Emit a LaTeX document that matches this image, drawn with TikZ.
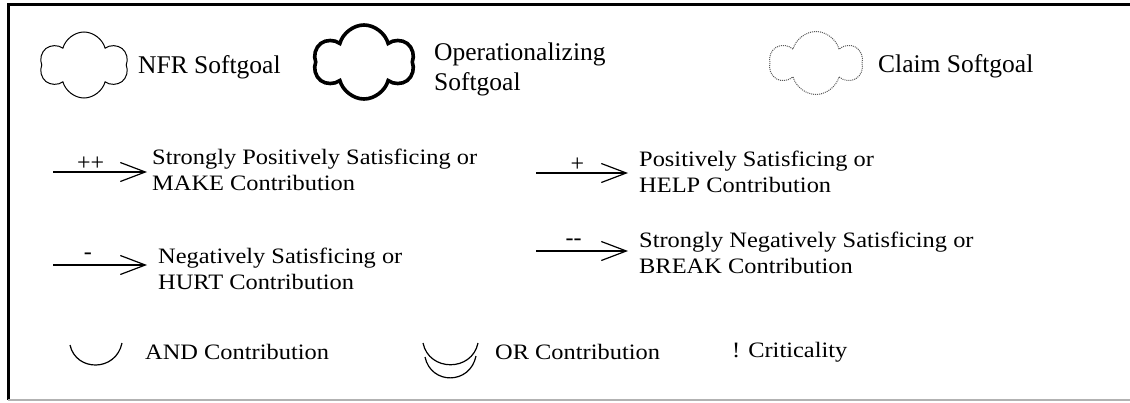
\documentclass[tikz,border=0pt]{standalone}
\usepackage{fontspec}
\setmainfont{Liberation Serif}
\newfontfamily\widefont[FakeStretch=1.11]{Liberation Serif}
\usetikzlibrary{shapes.symbols,arrows.meta,positioning}

\begin{document}
\begin{tikzpicture}%
	[x={(1pt,0pt)},
	y={(0pt,-1pt)},
	frameline/.style={line width=3pt, line join=miter},
	softgoal/.style={cloud, cloud puffs=6, cloud puff arc=150, cloud ignores aspect, draw=black, inner sep=0pt},
	opgoal/.style={softgoal, line width=3.6pt},
	claimgoal/.style={softgoal, draw=black!65, densely dotted, line width=1pt},
	goaltext/.style={inner sep=0pt, font=\fontsize{25.5}{30}\selectfont, align=left},
	contrib/.style={line width=1.2pt, -{Straight Barb[length=25pt, width=19pt, line width=1.2pt]}},
	sign/.style={inner sep=0pt, text depth=0pt, font=\fontsize{24}{24}\selectfont},
	legtext/.style={inner sep=0pt, font=\widefont\fontsize{22}{26.5}\selectfont, align=left},
	andarc/.style={line width=1.2pt}]
	%
	%% Frame of the legend
	%%
	\useasboundingbox (0,0) rectangle (1130,402);
	\draw[frameline] (8,400) -- (8,4) -- (1130,4);
	\draw[black!30, line width=1.5pt] (8,400) -- (1130,400);
	%%
	%% Softgoal kinds
	%%
	\node[softgoal, line width=1pt, minimum width=88pt, minimum height=66pt] (nfr) at (84,65) {};
	\node[goaltext, anchor=base west] (nfr-t) at (138,73) {NFR Softgoal};
	\node[opgoal, minimum width=100pt, minimum height=74pt] (opsg) at (364,62) {};
	\node[goaltext, anchor=west] (opsg-t) at (434,69) {Operationalizing\\Softgoal};
	\node[claimgoal, minimum width=92pt, minimum height=63pt] (claim) at (816,63) {};
	\node[goaltext, anchor=base west] (claim-t) at (878,72) {Claim Softgoal};
	%%
	%% Contribution links
	%%
	\coordinate (make-s) at (53,172);
	\coordinate (make-e) at (147,172);
	\coordinate (help-s) at (536,173);
	\coordinate (help-e) at (628,173);
	\coordinate (hurt-s) at (53,265);
	\coordinate (hurt-e) at (147,265);
	\coordinate (break-s) at (536,251);
	\coordinate (break-e) at (628,251);
	%
	\draw[contrib] (make-s) -- node[sign, pos=0.4, above=1pt] {++} (make-e);
	\draw[contrib] (help-s) -- node[sign, pos=0.45, above=1pt] {+} (help-e);
	\draw[contrib] (hurt-s) -- node[sign, pos=0.37, above=5pt] {-} (hurt-e);
	\draw[contrib] (break-s) -- node[sign, pos=0.41, above=5pt] {-{}-} (break-e);
	%
	\node[legtext, right=5pt of make-e, yshift=2pt] (make-t) {Strongly Positively Satisficing or\\MAKE Contribution};
	\node[legtext, right=11pt of help-e, yshift=1pt] (help-t) {Positively Satisficing or\\HELP Contribution};
	\node[legtext, right=11pt of hurt-e, yshift=-4pt] (hurt-t) {Negatively Satisficing or\\HURT Contribution};
	\node[legtext, right=11pt of break-e, yshift=-2pt] (break-t) {Strongly Negatively Satisficing or\\BREAK Contribution};
	%%
	%% Decompositions and criticality
	%%
	\draw[andarc] (70,345) .. controls (76,372) and (116,372) .. (122,343);
	\node[legtext, anchor=west] (and-t) at (145,352) {AND Contribution};
	\draw[andarc] (423,343) .. controls (429,372) and (472,372) .. (478,343);
	\draw[andarc] (425,357) .. controls (431,385) and (470,385) .. (476,356);
	\node[legtext, anchor=west] (or-t) at (495,352) {OR Contribution};
	\node[legtext, anchor=west] (crit-t) at (732,352) {!\hspace{8pt}Criticality};
	%%
\end{tikzpicture}
\end{document}
